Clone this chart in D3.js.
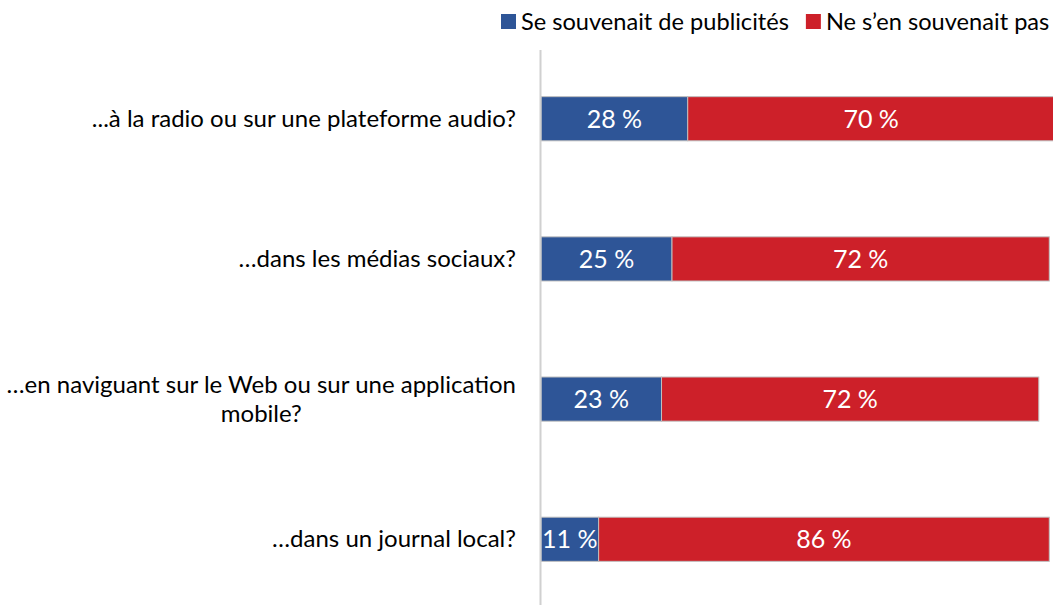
<!DOCTYPE html>
<html><head><meta charset="utf-8">
<script src="https://cdn.jsdelivr.net/npm/d3@7"></script>
<style>body{margin:0;background:#fff}svg{display:block}text{font-family:Lato,"Open Sans",sans-serif}</style>
</head><body>
<svg id="c" width="1053" height="605"></svg>
<script>
const categories = [
  ["...à la radio ou sur une plateforme audio?"],
  ["…dans les médias sociaux?"],
  ["…en naviguant sur le Web ou sur une application", "mobile?"],
  ["…dans un journal local?"]
];
const seriesNames = ["Se souvenait de publicités", "Ne s’en souvenait pas"];
const remembered = [28, 25, 23, 11];
const notRemembered = [70, 72, 72, 86];
const colors = ["#2E5597", "#CD2029"];

const svg = d3.select("#c");
const x = d3.scaleLinear().domain([0, 100]).range([541, 1065]);
const y = d3.scaleBand().domain(d3.range(categories.length)).range([49, 609]).paddingInner(0.685).paddingOuter(0.34);

const stacks = categories.map((c, i) => {
  const vals = [remembered[i], notRemembered[i]];
  let acc = 0;
  return vals.map((v, k) => { const s = {i, k, x0: acc, x1: acc + v, v}; acc += v; return s; });
}).flat();

svg.selectAll("rect.bar").data(stacks).join("rect")
  .attr("class", "bar")
  .attr("x", d => x(d.x0)).attr("width", d => x(d.x1) - x(d.x0))
  .attr("y", d => y(d.i)).attr("height", y.bandwidth())
  .attr("fill", d => colors[d.k]).attr("stroke", "#bfbfbf").attr("stroke-width", 1);

svg.selectAll("text.val").data(stacks).join("text")
  .attr("class", "val")
  .attr("x", d => (x(d.x0) + x(d.x1)) / 2)
  .attr("y", d => y(d.i) + y.bandwidth() / 2 + 9)
  .attr("text-anchor", "middle").attr("fill", "#fff").attr("font-size", 25)
  .text(d => d.v + " %");

// axis line
svg.append("line").attr("x1", 540.5).attr("x2", 540.5).attr("y1", 50).attr("y2", 605)
  .attr("stroke", "#d0d0d0").attr("stroke-width", 2);

// category labels
categories.forEach((lines, i) => {
  const g = svg.append("g");
  const cy = y(i) + y.bandwidth() / 2;
  const lh = 29;
  const t = lines.map((ln, j) => g.append("text")
    .attr("y", cy + 8 + (j - (lines.length - 1) / 2) * lh)
    .attr("font-size", 24).attr("fill", "#000").text(ln));
  const maxW = d3.max(t, n => n.node().getComputedTextLength());
  const center = 516 - maxW / 2;
  t.forEach(n => n.attr("x", center).attr("text-anchor", "middle"));
});

// legend
const lg = svg.append("g");
let lx = 501;
seriesNames.forEach((name, k) => {
  lg.append("rect").attr("x", lx).attr("y", 14).attr("width", 15).attr("height", 15).attr("fill", colors[k]);
  const t = lg.append("text").attr("x", lx + 20).attr("y", 30).attr("font-size", 23.6).attr("fill", "#000").text(name);
  lx += 20 + t.node().getComputedTextLength() + 17;
});
</script>
</body></html>
